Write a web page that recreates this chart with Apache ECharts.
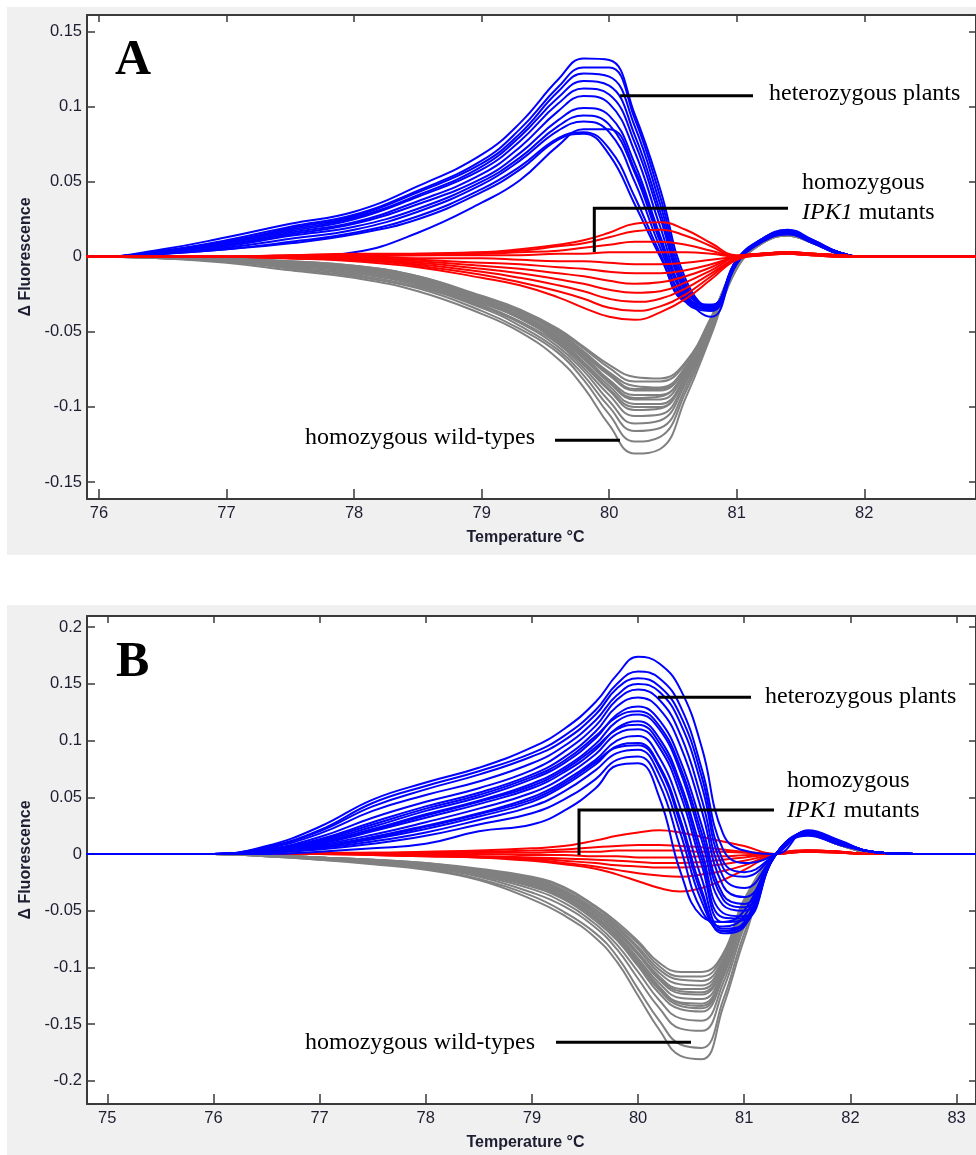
<!DOCTYPE html>
<html>
<head>
<meta charset="utf-8">
<script src="https://cdn.jsdelivr.net/npm/echarts@6/dist/echarts.min.js"></script>
<style>
  html, body { margin: 0; padding: 0; background: #fff; }
  #chart { width: 976px; height: 1155px; }
</style>
</head>
<body>
<div id="chart"></div>
<script>
// temperatures (°C) at which the curves were read, panel A
const tempA = [75.9, 76, 76.5, 77, 77.5, 78, 78.5, 79, 79.3, 79.6, 79.8, 80, 80.2, 80.4, 80.6, 80.8, 81, 81.2, 81.4, 81.6, 81.8, 82, 82.4, 82.88]

// panel A - heterozygous plants
const heteroA = [
  [0, 0, 0.005, 0.013, 0.022, 0.030, 0.047, 0.068, 0.089, 0.118, 0.132, 0.131, 0.095, 0.045, -0.015, -0.034, -0.004, 0.012, 0.018, 0.011, 0.003, 0, 0, 0],
  [0, 0, 0.004, 0.011, 0.020, 0.028, 0.044, 0.064, 0.085, 0.113, 0.126, 0.126, 0.092, 0.040, -0.018, -0.035, -0.004, 0.012, 0.017, 0.011, 0.003, 0, 0, 0],
  [0, 0, 0.004, 0.010, 0.019, 0.027, 0.043, 0.062, 0.082, 0.110, 0.122, 0.120, 0.087, 0.035, -0.020, -0.033, -0.003, 0.012, 0.017, 0.010, 0.003, 0, 0, 0],
  [0, 0, 0.003, 0.010, 0.018, 0.026, 0.041, 0.060, 0.080, 0.106, 0.117, 0.114, 0.081, 0.030, -0.022, -0.034, -0.003, 0.011, 0.016, 0.010, 0.003, 0, 0, 0],
  [0, 0, 0.003, 0.009, 0.017, 0.025, 0.040, 0.058, 0.077, 0.102, 0.112, 0.108, 0.076, 0.026, -0.024, -0.036, -0.004, 0.011, 0.016, 0.010, 0.002, 0, 0, 0],
  [0, 0, 0.003, 0.008, 0.016, 0.023, 0.037, 0.055, 0.073, 0.097, 0.107, 0.102, 0.070, 0.020, -0.026, -0.033, -0.002, 0.012, 0.017, 0.010, 0.003, 0, 0, 0],
  [0, 0, 0.003, 0.008, 0.015, 0.022, 0.035, 0.052, 0.069, 0.091, 0.099, 0.094, 0.062, 0.014, -0.028, -0.035, -0.003, 0.011, 0.016, 0.010, 0.002, 0, 0, 0],
  [0, 0, 0.002, 0.007, 0.014, 0.020, 0.032, 0.050, 0.066, 0.087, 0.094, 0.088, 0.056, 0.010, -0.028, -0.032, -0.002, 0.011, 0.016, 0.010, 0.003, 0, 0, 0],
  [0, 0, 0.002, 0.006, 0.012, 0.018, 0.030, 0.048, 0.064, 0.084, 0.090, 0.083, 0.050, 0.006, -0.030, -0.036, -0.004, 0.011, 0.015, 0.009, 0.002, 0, 0, 0],
  [0, 0, 0, 0, 0, 0.003, 0.016, 0.036, 0.051, 0.074, 0.085, 0.085, 0.058, 0.012, -0.026, -0.040, -0.005, 0.010, 0.016, 0.010, 0.002, 0, 0, 0],
  [0, 0, 0.002, 0.005, 0.010, 0.016, 0.027, 0.045, 0.060, 0.079, 0.083, 0.072, 0.040, 0.002, -0.030, -0.032, -0.002, 0.011, 0.016, 0.010, 0.003, 0, 0, 0],
  [0, 0, 0.002, 0.005, 0.009, 0.015, 0.025, 0.043, 0.058, 0.078, 0.082, 0.068, 0.035, 0, -0.030, -0.034, -0.003, 0.010, 0.015, 0.009, 0.002, 0, 0, 0]
]

// panel A - homozygous IPK1 mutants
const mutantA = [
  [0, 0, 0, 0, 0.001, 0.002, 0.002, 0.003, 0.005, 0.008, 0.011, 0.016, 0.022, 0.023, 0.018, 0.009, 0.001, 0.002, 0.003, 0.002, 0.001, 0, 0, 0],
  [0, 0, 0, 0, 0.001, 0.001, 0.002, 0.003, 0.004, 0.007, 0.009, 0.013, 0.017, 0.018, 0.014, 0.007, 0, 0.002, 0.003, 0.002, 0.001, 0, 0, 0],
  [0, 0, 0, 0, 0, 0.001, 0.001, 0.002, 0.003, 0.004, 0.006, 0.008, 0.010, 0.010, 0.008, 0.004, 0, 0.002, 0.002, 0.002, 0.001, 0, 0, 0],
  [0, 0, 0, 0, 0, 0, 0.001, 0.001, 0.001, 0.002, 0.002, 0.003, 0.003, 0.003, 0.003, 0.002, 0, 0.001, 0.002, 0.001, 0.001, 0, 0, 0],
  [0, 0, 0, 0, 0, 0, -0.001, -0.001, -0.002, -0.003, -0.003, -0.004, -0.005, -0.005, -0.004, -0.002, 0, 0.002, 0.003, 0.002, 0.001, 0, 0, 0],
  [0, 0, 0, 0, 0, -0.001, -0.002, -0.004, -0.005, -0.007, -0.008, -0.010, -0.011, -0.011, -0.009, -0.005, 0, 0.002, 0.002, 0.001, 0.001, 0, 0, 0],
  [0, 0, 0, 0, 0, -0.001, -0.003, -0.006, -0.008, -0.011, -0.013, -0.016, -0.018, -0.017, -0.013, -0.007, 0, 0.001, 0.002, 0.001, 0, 0, 0, 0],
  [0, 0, 0, 0, -0.001, -0.002, -0.004, -0.008, -0.011, -0.015, -0.018, -0.022, -0.024, -0.023, -0.017, -0.009, 0, 0.002, 0.003, 0.002, 0.001, 0, 0, 0],
  [0, 0, 0, 0, -0.001, -0.002, -0.005, -0.010, -0.014, -0.019, -0.023, -0.028, -0.030, -0.028, -0.021, -0.011, -0.001, 0.002, 0.003, 0.002, 0.001, 0, 0, 0],
  [0, 0, 0, 0, -0.001, -0.002, -0.006, -0.012, -0.017, -0.023, -0.028, -0.034, -0.036, -0.033, -0.025, -0.013, -0.001, 0.002, 0.002, 0.001, 0, 0, 0, 0],
  [0, 0, 0, 0, -0.001, -0.003, -0.007, -0.014, -0.019, -0.027, -0.034, -0.040, -0.042, -0.037, -0.028, -0.015, -0.002, 0.001, 0.002, 0.001, 0, 0, 0, 0]
]

// panel A - homozygous wild-types
const wildA = [
  [0, 0, 0, -0.001, -0.003, -0.006, -0.013, -0.026, -0.035, -0.048, -0.060, -0.072, -0.080, -0.081, -0.070, -0.040, -0.005, 0.010, 0.015, 0.010, 0.003, 0, 0, 0],
  [0, 0, 0, -0.001, -0.003, -0.006, -0.013, -0.027, -0.036, -0.049, -0.061, -0.074, -0.083, -0.083, -0.071, -0.041, -0.005, 0.010, 0.015, 0.010, 0.003, 0, 0, 0],
  [0, 0, 0, -0.001, -0.004, -0.007, -0.014, -0.027, -0.037, -0.050, -0.063, -0.077, -0.086, -0.087, -0.073, -0.041, -0.005, 0.010, 0.015, 0.010, 0.003, 0, 0, 0],
  [0, 0, 0, -0.001, -0.004, -0.007, -0.014, -0.028, -0.037, -0.051, -0.064, -0.078, -0.088, -0.088, -0.074, -0.042, -0.006, 0.010, 0.015, 0.010, 0.003, 0, 0, 0],
  [0, 0, 0, -0.002, -0.004, -0.007, -0.015, -0.028, -0.038, -0.052, -0.065, -0.079, -0.089, -0.089, -0.074, -0.042, -0.006, 0.010, 0.015, 0.010, 0.003, 0, 0, 0],
  [0, 0, 0, -0.002, -0.004, -0.008, -0.015, -0.029, -0.039, -0.053, -0.066, -0.082, -0.092, -0.092, -0.076, -0.043, -0.006, 0.010, 0.015, 0.010, 0.003, 0, 0, 0],
  [0, 0, 0, -0.002, -0.005, -0.008, -0.016, -0.029, -0.040, -0.054, -0.067, -0.083, -0.094, -0.093, -0.076, -0.043, -0.006, 0.010, 0.015, 0.010, 0.003, 0, 0, 0],
  [0, 0, 0, -0.002, -0.005, -0.008, -0.016, -0.030, -0.040, -0.054, -0.068, -0.084, -0.095, -0.095, -0.077, -0.044, -0.006, 0.010, 0.015, 0.010, 0.003, 0, 0, 0],
  [0, 0, 0, -0.002, -0.005, -0.009, -0.017, -0.030, -0.040, -0.055, -0.070, -0.086, -0.098, -0.098, -0.079, -0.044, -0.006, 0.010, 0.015, 0.010, 0.002, 0, 0, 0],
  [0, 0, 0, -0.002, -0.005, -0.009, -0.016, -0.030, -0.041, -0.056, -0.071, -0.088, -0.100, -0.100, -0.079, -0.045, -0.006, 0.010, 0.015, 0.010, 0.002, 0, 0, 0],
  [0, 0, 0, -0.002, -0.006, -0.009, -0.017, -0.031, -0.041, -0.057, -0.072, -0.089, -0.102, -0.101, -0.080, -0.045, -0.006, 0.010, 0.015, 0.010, 0.002, 0, 0, 0],
  [0, 0, -0.001, -0.003, -0.006, -0.010, -0.018, -0.032, -0.043, -0.058, -0.074, -0.092, -0.106, -0.105, -0.082, -0.046, -0.007, 0.010, 0.015, 0.010, 0.002, 0, 0, 0],
  [0, 0, -0.001, -0.003, -0.007, -0.011, -0.019, -0.033, -0.044, -0.060, -0.076, -0.096, -0.111, -0.109, -0.084, -0.047, -0.007, 0.009, 0.014, 0.009, 0.002, 0, 0, 0],
  [0, 0, -0.001, -0.003, -0.007, -0.012, -0.020, -0.034, -0.046, -0.062, -0.079, -0.100, -0.116, -0.114, -0.087, -0.048, -0.007, 0.009, 0.014, 0.009, 0.002, 0, 0, 0],
  [0, 0, -0.001, -0.003, -0.008, -0.013, -0.021, -0.036, -0.048, -0.064, -0.082, -0.105, -0.123, -0.120, -0.090, -0.050, -0.008, 0.009, 0.014, 0.009, 0.002, 0, 0, 0],
  [0, 0, -0.001, -0.004, -0.009, -0.014, -0.023, -0.038, -0.050, -0.068, -0.087, -0.112, -0.131, -0.128, -0.094, -0.052, -0.008, 0.009, 0.014, 0.009, 0.002, 0, 0, 0]
]

// temperatures (°C) at which the curves were read, panel B
const tempB = [74.8, 75.5, 76, 76.5, 77, 77.5, 78, 78.5, 79, 79.3, 79.6, 79.8, 80, 80.2, 80.4, 80.6, 80.8, 81, 81.3, 81.6, 81.9, 82.2, 82.6, 83.2]

// panel B - heterozygous plants
const heteroB = [
  [0, 0, 0, 0.007, 0.024, 0.048, 0.063, 0.076, 0.094, 0.110, 0.134, 0.158, 0.174, 0.168, 0.145, 0.094, 0.018, 0.003, 0, 0.021, 0.012, 0.002, 0, 0],
  [0, 0, 0, 0.006, 0.021, 0.045, 0.060, 0.073, 0.089, 0.104, 0.127, 0.150, 0.161, 0.155, 0.130, 0.075, 0.004, -0.008, 0, 0.020, 0.011, 0.002, 0, 0],
  [0, 0, 0, 0.006, 0.020, 0.042, 0.057, 0.070, 0.086, 0.100, 0.123, 0.146, 0.155, 0.148, 0.122, 0.068, -0.006, -0.016, 0, 0.020, 0.011, 0.002, 0, 0],
  [0, 0, 0, 0.005, 0.018, 0.038, 0.052, 0.064, 0.080, 0.095, 0.118, 0.140, 0.150, 0.143, 0.115, 0.060, -0.012, -0.020, 0, 0.020, 0.011, 0.002, 0, 0],
  [0, 0, 0, 0.004, 0.015, 0.032, 0.046, 0.058, 0.074, 0.090, 0.113, 0.136, 0.145, 0.136, 0.105, 0.048, -0.020, -0.030, 0, 0.019, 0.011, 0.002, 0, 0],
  [0, 0, 0, 0.004, 0.013, 0.028, 0.042, 0.054, 0.070, 0.085, 0.108, 0.130, 0.138, 0.128, 0.095, 0.038, -0.028, -0.038, 0, 0.019, 0.010, 0.002, 0, 0],
  [0, 0, 0, 0.003, 0.011, 0.024, 0.038, 0.050, 0.066, 0.080, 0.102, 0.123, 0.130, 0.118, 0.082, 0.025, -0.036, -0.044, 0, 0.018, 0.010, 0.002, 0, 0],
  [0, 0, 0, 0.003, 0.012, 0.026, 0.040, 0.052, 0.068, 0.082, 0.104, 0.121, 0.126, 0.113, 0.076, 0.018, -0.040, -0.047, 0, 0.018, 0.010, 0.002, 0, 0],
  [0, 0, 0, 0.003, 0.010, 0.022, 0.035, 0.047, 0.062, 0.076, 0.097, 0.117, 0.123, 0.110, 0.072, 0.012, -0.045, -0.050, 0, 0.019, 0.010, 0.002, 0, 0],
  [0, 0, 0, 0.003, 0.009, 0.020, 0.032, 0.044, 0.058, 0.072, 0.092, 0.111, 0.117, 0.102, 0.062, 0.002, -0.052, -0.055, 0, 0.018, 0.010, 0.002, 0, 0],
  [0, 0, 0, 0.003, 0.010, 0.021, 0.034, 0.046, 0.060, 0.074, 0.094, 0.110, 0.114, 0.098, 0.058, -0.004, -0.056, -0.057, 0, 0.018, 0.010, 0.002, 0, 0],
  [0, 0, 0, 0.002, 0.008, 0.017, 0.028, 0.040, 0.054, 0.068, 0.088, 0.106, 0.110, 0.094, 0.052, -0.010, -0.060, -0.058, 0, 0.018, 0.010, 0.002, 0, 0],
  [0, 0, 0, 0.002, 0.007, 0.015, 0.025, 0.036, 0.050, 0.064, 0.083, 0.100, 0.104, 0.085, 0.040, -0.022, -0.066, -0.062, 0, 0.018, 0.009, 0.002, 0, 0],
  [0, 0, 0, 0.002, 0.006, 0.013, 0.022, 0.033, 0.046, 0.060, 0.079, 0.095, 0.098, 0.078, 0.030, -0.032, -0.070, -0.064, 0, 0.017, 0.009, 0.002, 0, 0],
  [0, 0, 0, 0.002, 0.006, 0.014, 0.024, 0.035, 0.048, 0.062, 0.081, 0.094, 0.096, 0.076, 0.026, -0.036, -0.068, -0.062, 0, 0.017, 0.009, 0.002, 0, 0],
  [0, 0, 0, 0.001, 0.005, 0.011, 0.019, 0.030, 0.042, 0.055, 0.074, 0.089, 0.092, 0.070, 0.018, -0.042, -0.068, -0.060, 0, 0.017, 0.009, 0.002, 0, 0],
  [0, 0, 0, 0.001, 0.004, 0.009, 0.016, 0.026, 0.036, 0.048, 0.066, 0.083, 0.086, 0.062, 0.005, -0.050, -0.064, -0.055, 0, 0.017, 0.009, 0.002, 0, 0],
  [0, 0, 0, 0, 0.002, 0.005, 0.009, 0.020, 0.026, 0.038, 0.058, 0.078, 0.080, 0.050, -0.016, -0.055, -0.060, -0.050, 0, 0.016, 0.008, 0.002, 0, 0]
]

// panel B - homozygous IPK1 mutants
const mutantB = [
  [0, 0, 0, 0, 0.001, 0.001, 0.002, 0.003, 0.005, 0.007, 0.012, 0.016, 0.019, 0.021, 0.019, 0.015, 0.011, 0.007, 0, 0.003, 0.002, 0, 0, 0],
  [0, 0, 0, 0, 0, 0.001, 0.001, 0.002, 0.003, 0.004, 0.006, 0.007, 0.008, 0.008, 0.007, 0.006, 0.004, 0.002, 0, 0.003, 0.002, 0, 0, 0],
  [0, 0, 0, 0, 0, 0, 0.001, 0.001, 0.001, 0.002, 0.002, 0.003, 0.003, 0.003, 0.003, 0.002, 0.002, 0.001, 0, 0.002, 0.001, 0, 0, 0],
  [0, 0, 0, 0, 0, 0, 0, 0, -0.001, -0.001, -0.002, -0.002, -0.003, -0.003, -0.003, -0.002, -0.002, -0.001, 0, 0.002, 0.001, 0, 0, 0],
  [0, 0, 0, 0, 0, 0, -0.001, -0.002, -0.003, -0.004, -0.005, -0.006, -0.007, -0.008, -0.008, -0.007, -0.005, -0.003, 0, 0.002, 0.001, 0, 0, 0],
  [0, 0, 0, 0, 0, 0, -0.001, -0.002, -0.004, -0.006, -0.008, -0.010, -0.011, -0.012, -0.012, -0.011, -0.009, -0.006, 0, 0.003, 0.002, 0, 0, 0],
  [0, 0, 0, 0, 0, -0.001, -0.002, -0.003, -0.005, -0.008, -0.011, -0.014, -0.017, -0.019, -0.020, -0.018, -0.015, -0.010, 0, 0.003, 0.002, 0, 0, 0],
  [0, 0, 0, 0, 0, -0.001, -0.002, -0.003, -0.006, -0.009, -0.013, -0.018, -0.024, -0.030, -0.033, -0.030, -0.023, -0.014, 0, 0.003, 0.002, 0, 0, 0]
]

// panel B - homozygous wild-types
const wildB = [
  [0, 0, 0, -0.001, -0.003, -0.005, -0.008, -0.013, -0.020, -0.029, -0.046, -0.060, -0.077, -0.096, -0.104, -0.104, -0.088, -0.040, 0, 0.017, 0.008, 0.001, 0, 0],
  [0, 0, 0, -0.001, -0.003, -0.005, -0.008, -0.014, -0.021, -0.030, -0.047, -0.062, -0.079, -0.099, -0.108, -0.108, -0.090, -0.042, 0, 0.017, 0.008, 0.001, 0, 0],
  [0, 0, 0, -0.001, -0.003, -0.005, -0.009, -0.014, -0.022, -0.032, -0.049, -0.064, -0.082, -0.102, -0.111, -0.112, -0.093, -0.044, 0, 0.017, 0.008, 0.001, 0, 0],
  [0, 0, 0, -0.001, -0.003, -0.006, -0.009, -0.015, -0.023, -0.033, -0.050, -0.065, -0.084, -0.105, -0.115, -0.116, -0.095, -0.045, 0, 0.017, 0.008, 0.001, 0, 0],
  [0, 0, 0, -0.001, -0.003, -0.006, -0.009, -0.015, -0.024, -0.034, -0.052, -0.067, -0.087, -0.108, -0.119, -0.119, -0.097, -0.047, 0, 0.017, 0.008, 0.001, 0, 0],
  [0, 0, 0, -0.001, -0.003, -0.006, -0.009, -0.015, -0.024, -0.035, -0.052, -0.068, -0.088, -0.110, -0.121, -0.122, -0.099, -0.048, 0, 0.017, 0.008, 0.001, 0, 0],
  [0, 0, 0, -0.001, -0.004, -0.006, -0.010, -0.016, -0.025, -0.036, -0.053, -0.069, -0.089, -0.111, -0.123, -0.124, -0.100, -0.049, 0, 0.017, 0.008, 0.001, 0, 0],
  [0, 0, 0, -0.001, -0.004, -0.006, -0.010, -0.016, -0.026, -0.037, -0.055, -0.071, -0.092, -0.114, -0.127, -0.128, -0.103, -0.051, 0, 0.017, 0.008, 0.001, 0, 0],
  [0, 0, 0, -0.001, -0.004, -0.006, -0.010, -0.017, -0.027, -0.038, -0.056, -0.073, -0.094, -0.117, -0.131, -0.132, -0.105, -0.053, 0, 0.017, 0.008, 0.001, 0, 0],
  [0, 0, 0, -0.001, -0.004, -0.006, -0.010, -0.017, -0.027, -0.038, -0.056, -0.073, -0.095, -0.118, -0.132, -0.134, -0.106, -0.054, 0, 0.017, 0.008, 0.001, 0, 0],
  [0, 0, 0, -0.001, -0.004, -0.007, -0.010, -0.017, -0.028, -0.039, -0.057, -0.074, -0.097, -0.120, -0.134, -0.136, -0.107, -0.054, 0, 0.017, 0.008, 0.001, 0, 0],
  [0, 0, 0, -0.001, -0.004, -0.007, -0.011, -0.018, -0.029, -0.040, -0.059, -0.076, -0.099, -0.123, -0.137, -0.139, -0.109, -0.056, 0, 0.017, 0.008, 0.001, 0, 0],
  [0, 0, 0, -0.002, -0.004, -0.007, -0.011, -0.019, -0.031, -0.043, -0.062, -0.080, -0.104, -0.129, -0.145, -0.147, -0.114, -0.060, 0, 0.017, 0.008, 0.001, 0, 0],
  [0, 0, 0, -0.002, -0.004, -0.008, -0.012, -0.020, -0.034, -0.046, -0.065, -0.084, -0.110, -0.136, -0.154, -0.156, -0.120, -0.064, 0, 0.017, 0.008, 0.001, 0, 0],
  [0, 0, 0, -0.002, -0.005, -0.008, -0.013, -0.022, -0.037, -0.051, -0.070, -0.090, -0.119, -0.147, -0.168, -0.171, -0.129, -0.070, 0, 0.017, 0.008, 0.001, 0, 0],
  [0, 0, 0, -0.002, -0.005, -0.009, -0.014, -0.023, -0.040, -0.054, -0.074, -0.095, -0.125, -0.155, -0.178, -0.181, -0.135, -0.075, 0, 0.017, 0.008, 0.001, 0, 0]
]

const BLUE = '#0000ff'
const RED = '#ff0000'
const GRAY = '#808080'
const AXIS = '#3a3a3a'
const LABEL = '#1e1e32'
const SANS = '"Liberation Sans", Arial, sans-serif'
const SERIF = '"Liberation Serif", "Times New Roman", serif'

// axes of one panel: bottom/left carry labels, top/right only ticks
function xAxes (grid, min, max, split) {
  const base = {
    type: 'value', gridIndex: grid, min: min, max: max, splitNumber: split,
    splitLine: { show: false },
    axisLine: { onZero: false, lineStyle: { color: AXIS, width: 2 } }
  }
  return [
    Object.assign({}, base, {
      position: 'bottom',
      axisTick: { inside: true, length: 10, lineStyle: { color: AXIS, width: 1.5 } },
      axisLabel: {
        margin: 6, fontSize: 16.5, fontFamily: SANS, color: LABEL,
        showMinLabel: false, showMaxLabel: false,
        formatter: v => Math.abs(v - Math.round(v)) < 1e-6 ? String(Math.round(v)) : ''
      },
      name: 'Temperature °C', nameLocation: 'middle', nameGap: 31,
      nameTextStyle: { fontSize: 16, fontWeight: 'bold', fontFamily: SANS, color: LABEL, padding: [0, 12, 0, 0] }
    }),
    Object.assign({}, base, {
      position: 'top',
      axisTick: { inside: true, length: 7, lineStyle: { color: AXIS, width: 1.5 } },
      axisLabel: { show: false }
    })
  ]
}

function yAxes (grid, min, max, split) {
  const base = {
    type: 'value', gridIndex: grid, min: min, max: max, splitNumber: split,
    splitLine: { show: false },
    axisLine: { show: true, onZero: false, lineStyle: { color: AXIS, width: 2 } }
  }
  return [
    Object.assign({}, base, {
      position: 'left',
      axisTick: { show: true, inside: true, length: 8, lineStyle: { color: AXIS, width: 1.5 } },
      axisLabel: {
        margin: 5, fontSize: 16.5, fontFamily: SANS, color: LABEL,
        showMinLabel: false, showMaxLabel: false,
        formatter: v => Math.abs(v / 0.05 - Math.round(v / 0.05)) < 1e-6 ? String(+v.toFixed(2)) : ''
      },
      name: 'Δ Fluorescence', nameLocation: 'middle', nameGap: 52,
      nameTextStyle: { fontSize: 16, fontWeight: 'bold', fontFamily: SANS, color: LABEL }
    }),
    Object.assign({}, base, {
      position: 'right',
      axisTick: { show: true, inside: true, length: 7, lineStyle: { color: AXIS, width: 1.5 } },
      axisLabel: { show: false }
    })
  ]
}

const series = []
function addGroup (curves, temps, color, xi, yi) {
  curves.forEach(vals => {
    series.push({
      type: 'line',
      xAxisIndex: xi,
      yAxisIndex: yi,
      data: temps.map((t, i) => [t, vals[i]]),
      symbol: 'none',
      smooth: 0.45,
      silent: true,
      lineStyle: { color: color, width: 2 },
      itemStyle: { color: color }
    })
  })
}
// panel A: wild-types under, mutants on top
addGroup(wildA, tempA, GRAY, 0, 0)
addGroup(heteroA, tempA, BLUE, 0, 0)
addGroup(mutantA, tempA, RED, 0, 0)
// panel B
addGroup(wildB, tempB, GRAY, 2, 2)
addGroup(mutantB, tempB, RED, 2, 2)
addGroup(heteroB, tempB, BLUE, 2, 2)

function label (x, y, text) {
  return {
    type: 'text', z: 100,
    style: {
      x: x, y: y, text: text, fill: '#000',
      fontSize: 24, fontFamily: SERIF,
      align: 'left', verticalAlign: 'middle',
      textAlign: 'left', textVerticalAlign: 'middle'
    }
  }
}
function mutantText (x, y) {
  return {
    type: 'text', z: 100,
    style: {
      x: x, y: y, text: '{i|IPK1} mutants', fill: '#000',
      fontSize: 24, fontFamily: SERIF,
      align: 'left', verticalAlign: 'middle',
      textAlign: 'left', textVerticalAlign: 'middle',
      rich: { i: { fontStyle: 'italic', fontSize: 24, fontFamily: SERIF, fill: '#000' } }
    }
  }
}
function leader (points) {
  return { type: 'polyline', z: 100, shape: { points: points }, style: { stroke: '#000', lineWidth: 3, fill: null, lineJoin: 'miter', lineCap: 'butt' } }
}
function panelLetter (x, y, text) {
  return {
    type: 'text', z: 100,
    style: {
      x: x, y: y, text: text, fill: '#000',
      fontSize: 50, fontWeight: 'bold', fontFamily: SERIF,
      align: 'left', verticalAlign: 'middle', textAlign: 'left', textVerticalAlign: 'middle'
    }
  }
}

const graphic = [
  { type: 'rect', z: -10, shape: { x: 7, y: 7, width: 975, height: 548 }, style: { fill: '#f0f0f0' } },
  { type: 'rect', z: -10, shape: { x: 7, y: 605, width: 975, height: 560 }, style: { fill: '#f0f0f0' } },
  panelLetter(115, 61, 'A'),
  panelLetter(116, 663, 'B'),
  // panel A notes
  label(769, 94, 'heterozygous plants'),
  leader([[620, 95.7], [753, 95.7]]),
  label(802, 183, 'homozygous'),
  mutantText(802, 213),
  leader([[788, 208.3], [594.3, 208.3], [594.3, 252]]),
  label(305, 438, 'homozygous wild-types'),
  leader([[555, 440.3], [620, 440.3]]),
  // panel B notes
  label(765, 697, 'heterozygous plants'),
  leader([[658, 697.3], [751, 697.3]]),
  label(787, 781, 'homozygous'),
  mutantText(787, 811),
  leader([[774, 810], [579, 810], [579, 855]]),
  label(305, 1043, 'homozygous wild-types'),
  leader([[556, 1042.3], [691, 1042.3]])
]

const option = {
  animation: false,
  backgroundColor: '#fff',
  grid: [
    { left: 87, top: 15, width: 891, height: 484, show: true, backgroundColor: '#fff', borderWidth: 0 },
    { left: 87, top: 616, width: 891, height: 488, show: true, backgroundColor: '#fff', borderWidth: 0 }
  ],
  xAxis: [].concat(xAxes(0, 75.906, 82.876, 7), xAxes(1, 74.809, 83.183, 8)),
  yAxis: [].concat(yAxes(0, -0.1613, 0.161, 6), yAxes(1, -0.2205, 0.2099, 8)),
  series: series,
  graphic: graphic
}

const chart = echarts.init(document.getElementById('chart'), null, { renderer: 'canvas' })
chart.setOption(option)
window.addEventListener('resize', () => chart.resize())
</script>
</body>
</html>
